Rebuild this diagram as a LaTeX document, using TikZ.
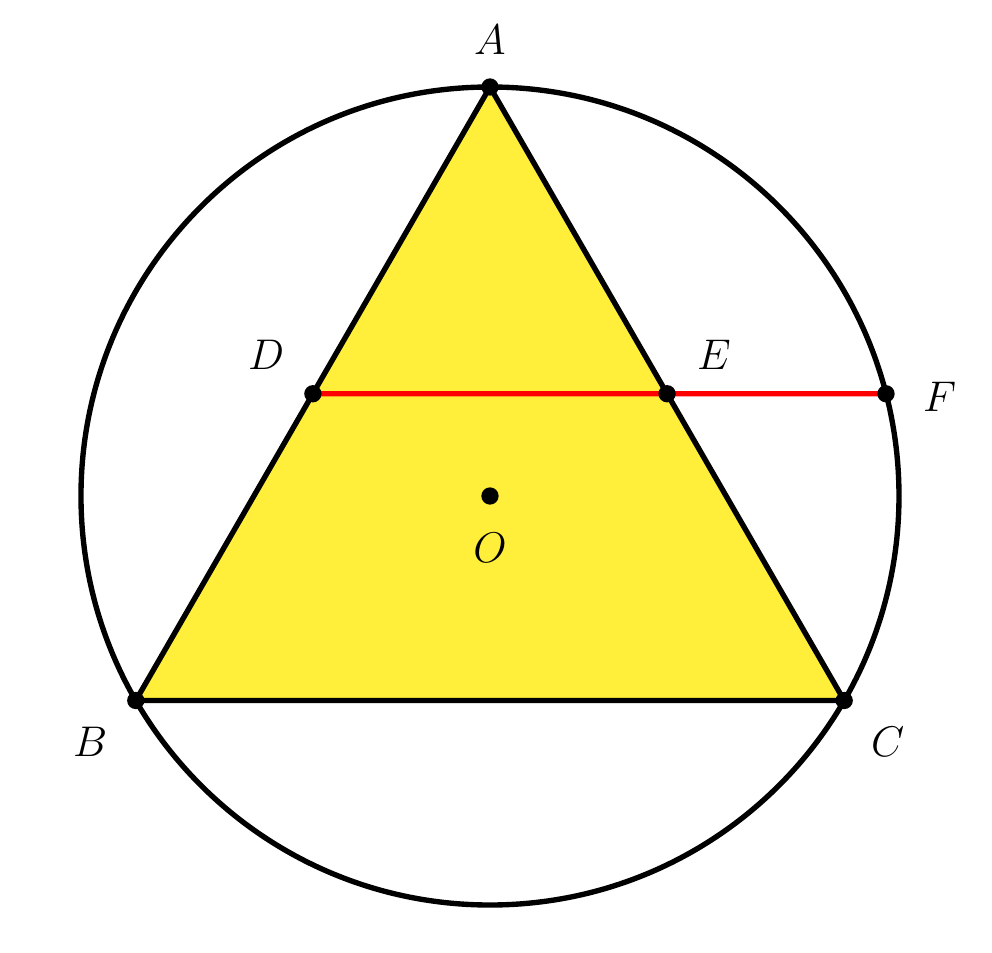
\documentclass[tikz,border=0pt]{standalone}
\usepackage{tikz}
\usetikzlibrary{calc}
\definecolor{triyellow}{RGB}{255,238,58}
\tikzset{
  edge/.style={line width=1.5pt, line join=round},
  redline/.style={line width=1.5pt, red},
  pt/.style={circle, fill=black, inner sep=0pt, minimum size=0.17cm},
  lbl/.style={font=\fontsize{13}{15}\selectfont, inner sep=0pt}
}
\begin{document}
\begin{tikzpicture}
\useasboundingbox (-4.816,-4.482) rectangle (4.934,4.875);
\def\R{4.02}
\coordinate (O) at (0,0);
\coordinate (A) at (90:\R);
\coordinate (B) at (210:\R);
\coordinate (C) at (330:\R);
\coordinate (D) at ($(A)!0.5!(B)$);
\coordinate (E) at ($(A)!0.5!(C)$);
\coordinate (F) at ({sqrt(\R*\R-\R*\R/16)},{\R/4});
\fill[triyellow] (A) -- (B) -- (C) -- cycle;
\draw[redline] (D) -- (F);
\draw[edge] (A) -- (B) -- (C) -- cycle;
\draw[edge] (O) circle (\R);
\foreach \p in {A,B,C,D,E,F,O} \node[pt] (p\p) at (\p) {};
\node[lbl] (lA) at (0,4.48) {$A$};
\node[lbl] (lB) at (-3.93,-2.42) {$B$};
\node[lbl] (lC) at (3.91,-2.42) {$C$};
\node[lbl] (lD) at (-2.20,1.39) {$D$};
\node[lbl] (lE) at (2.20,1.39) {$E$};
\node[lbl] (lF) at (4.42,0.97) {$F$};
\node[lbl] (lO) at (0,-0.51) {$O$};
\end{tikzpicture}
\end{document}
